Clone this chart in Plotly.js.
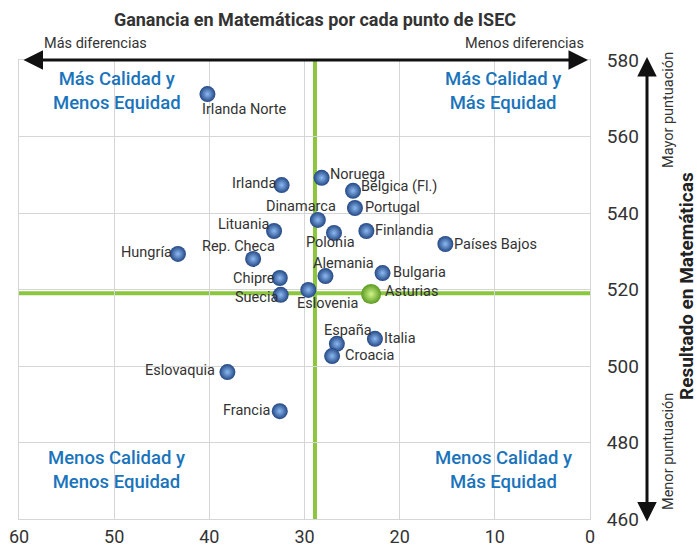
<!DOCTYPE html>
<html><head><meta charset="utf-8">
<script src="https://cdn.plot.ly/plotly-3.0.1.min.js"></script>
<style>html,body{margin:0;padding:0;background:#fff}</style>
</head><body>
<div id="chart" style="width:697px;height:550px"></div>
<script>
// Data
const countries = ["Irlanda Norte","Irlanda","Noruega","Bélgica (Fl.)","Portugal","Dinamarca","Lituania","Polonia","Finlandia","Países Bajos","Hungría","Rep. Checa","Alemania","Bulgaria","Chipre","Suecia","Eslovenia","España","Italia","Croacia","Eslovaquia","Francia"];
const isecGain = [40.2,32.4,28.2,24.9,24.7,28.6,33.2,26.9,23.5,15.2,43.3,35.4,27.8,21.8,32.6,32.5,29.6,26.6,22.6,27.1,38.1,32.6];
const mathScore = [571.1,547.3,549.2,545.8,541.3,538.2,535.3,534.8,535.3,531.9,529.3,528.0,523.5,524.3,523.0,518.6,519.9,505.8,507.1,502.6,498.4,488.2];
const asturiasName = "Asturias";
const asturiasGain = 23.0;
const asturiasScore = 518.8;
const meanGain = 28.9;
const meanScore = 519;
const xTicks = [60,50,40,30,20,10,0];
const yTicks = [460,480,500,520,540,560,580];

// Label placement (anchor, pixel dx, pixel dy downwards) — layout only
const labelLayout = {
  "Irlanda Norte":["center",37,15], "Irlanda":["right",-5,-2], "Noruega":["left",7,-3],
  "Bélgica (Fl.)":["left",7,-4], "Portugal":["left",9,-1], "Dinamarca":["center",-17,-13],
  "Lituania":["right",-4,-6], "Polonia":["center",-4,10], "Finlandia":["left",8,0],
  "Países Bajos":["left",8,1], "Hungría":["right",-5,-1], "Rep. Checa":["center",-15,-12],
  "Alemania":["center",18,-13], "Bulgaria":["left",9,-1], "Chipre":["right",-4,0],
  "Suecia":["right",-2,3], "Eslovenia":["center",20,14], "Asturias":["left",13,-3],
  "España":["center",11,-13], "Italia":["left",8,0], "Croacia":["left",12,-1],
  "Eslovaquia":["right",-11,-2], "Francia":["right",-9,-1]
};

const FONT = "Roboto, 'Open Sans', sans-serif";
const BLUE_TXT = "#1a74bb";
const LABEL_FONT = {family: FONT, size: 14.5, color: "#333"};

const traces = [
  {
    type: "scatter", mode: "markers",
    x: isecGain, y: mathScore, text: countries,
    marker: {size: 16, color: "#234784", gradient: {type: "radial", color: "#8cbaf2"}, line: {width: 0}},
    hoverinfo: "text", cliponaxis: false
  },
  {
    type: "scatter", mode: "markers",
    x: [asturiasGain], y: [asturiasScore], text: [asturiasName],
    marker: {size: 20, color: "#5a9a22", gradient: {type: "radial", color: "#d2f58a"}, line: {width: 0}},
    hoverinfo: "text", cliponaxis: false
  }
];

const labelAnns = countries.concat([asturiasName]).map((name, i) => {
  const xv = i < countries.length ? isecGain[i] : asturiasGain;
  const yv = i < countries.length ? mathScore[i] : asturiasScore;
  const L = labelLayout[name];
  return {xref:"x", yref:"y", x:xv, y:yv, text:name, showarrow:false,
          xanchor:L[0], yanchor:"middle", xshift:L[1], yshift:-L[2],
          font:LABEL_FONT, borderpad:0};
});

const quadFont = {family:FONT, size:18.5, color:BLUE_TXT, weight:500};
const annotations = labelAnns.concat([
  {xref:"paper", yref:"paper", x:(117-19)/571, y:(519-91)/459, xanchor:"center", yanchor:"middle", text:"Más Calidad y<br>Menos Equidad", showarrow:false, font:quadFont, align:"center"},
  {xref:"paper", yref:"paper", x:(503-19)/571, y:(519-91)/459, xanchor:"center", yanchor:"middle", text:"Más Calidad y<br>Más Equidad", showarrow:false, font:quadFont, align:"center"},
  {xref:"paper", yref:"paper", x:(116-19)/571, y:(519-470)/459, xanchor:"center", yanchor:"middle", text:"Menos Calidad y<br>Menos Equidad", showarrow:false, font:quadFont, align:"center"},
  {xref:"paper", yref:"paper", x:(503-19)/571, y:(519-470)/459, xanchor:"center", yanchor:"middle", text:"Menos Calidad y<br>Más Equidad", showarrow:false, font:quadFont, align:"center"},
  // top double arrow
  {xref:"paper", yref:"paper", x:(588-19)/571, y:1.0, ax:-566, ay:0, text:"", showarrow:true, arrowhead:2, arrowside:"end+start", arrowwidth:3, arrowsize:1.3, arrowcolor:"#111"},
  {xref:"paper", yref:"paper", x:(42-19)/571, y:(519-44)/459, xanchor:"left", yanchor:"middle", text:"Más diferencias", showarrow:false, font:{family:FONT,size:14.5,color:"#333"}},
  {xref:"paper", yref:"paper", x:(586-19)/571, y:(519-44)/459, xanchor:"right", yanchor:"middle", text:"Menos diferencias", showarrow:false, font:{family:FONT,size:14.5,color:"#333"}},
  // right double arrow
  {xref:"paper", yref:"paper", x:(647-19)/571, y:(519-57)/459, ax:0, ay:466, text:"", showarrow:true, arrowhead:2, arrowside:"end+start", arrowwidth:3, arrowsize:1.3, arrowcolor:"#111"},
  {xref:"paper", yref:"paper", x:(668-19)/571, y:(519-110)/459, xanchor:"center", yanchor:"middle", text:"Mayor puntuación", textangle:-90, showarrow:false, font:{family:FONT,size:14.5,color:"#333"}},
  {xref:"paper", yref:"paper", x:(668-19)/571, y:(519-452)/459, xanchor:"center", yanchor:"middle", text:"Menor puntuación", textangle:-90, showarrow:false, font:{family:FONT,size:14.5,color:"#333"}},
  {xref:"paper", yref:"paper", x:(686-19)/571, y:(519-286)/459, xanchor:"center", yanchor:"middle", text:"<b>Resultado en Matemáticas</b>", textangle:-90, showarrow:false, font:{family:FONT,size:19,color:"#222"}, borderpad:0}
]);

const shapes = [
  {type:"line", xref:"x", yref:"paper", x0:meanGain, x1:meanGain, y0:0, y1:1, line:{color:"#8cc63f", width:4}, layer:"below"},
  {type:"line", xref:"paper", yref:"y", x0:0, x1:1, y0:meanScore, y1:meanScore, line:{color:"#8cc63f", width:4}, layer:"below"}
];

const layout = {
  width: 697, height: 550,
  margin: {l:19, r:107, t:60, b:31},
  paper_bgcolor: "#fff", plot_bgcolor: "#fff",
  showlegend: false,
  title: {text: "<b>Ganancia en Matemáticas por cada punto de ISEC</b>", font:{family:FONT, size:18, color:"#333"}, x:315/697, xanchor:"center", y:1-20/550, yanchor:"middle"},
  font: {family: FONT, color: "#333"},
  xaxis: {range:[60,0], tickvals:xTicks, ticktext:xTicks.map(String), showgrid:true, gridcolor:"#d6d6d6", gridwidth:1, zeroline:false, showline:true, linecolor:"#d6d6d6", mirror:true, ticks:"", ticklabelstandoff:1, tickfont:{family:FONT,size:18,color:"#333"}},
  yaxis: {range:[460,580], side:"right", tickvals:yTicks, ticktext:yTicks.map(String), showgrid:true, gridcolor:"#d6d6d6", gridwidth:1, zeroline:false, showline:true, linecolor:"#d6d6d6", mirror:true, ticks:"", ticklabelstandoff:12, tickfont:{family:FONT,size:19,color:"#333"}},
  annotations: annotations,
  shapes: shapes
};

Plotly.newPlot("chart", traces, layout, {staticPlot:true, displayModeBar:false});
</script>
</body></html>
